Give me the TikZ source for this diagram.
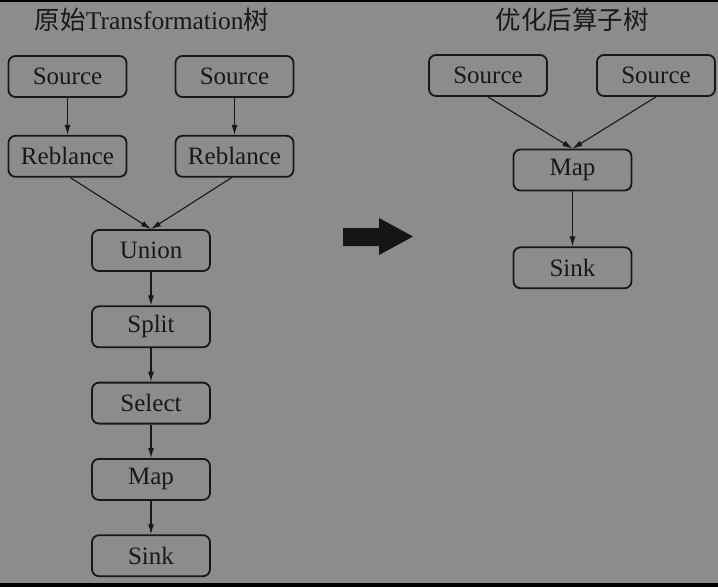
\documentclass[tikz,border=0pt]{standalone}
\usepackage{fontspec}
\setmainfont{Liberation Serif}
\newfontfamily\cjk{Noto Sans CJK SC}
\usepackage{tikz}
\usetikzlibrary{positioning,arrows.meta}
\definecolor{bggray}{RGB}{140,140,140}
\definecolor{ink}{RGB}{24,24,24}

\begin{document}
\begin{tikzpicture}[x=1pt,y=-1pt,
    op/.style={draw=ink, line width=1.8pt, rounded corners=7pt, minimum width=118pt,
      minimum height=41pt, inner sep=0pt, text=ink, font=\fontsize{25}{25}\selectfont},
    flow/.style={draw=ink, line width=1.1pt, -{Latex[length=10pt,width=6pt]}},
    heading/.style={text=ink, font=\fontsize{25.5}{25.5}\selectfont}]
        \fill[black] (0,0) rectangle (718,587);
        \fill[bggray] (0,2) rectangle (718,583);
        \useasboundingbox (0,0) rectangle (718,587);
        % titles
        \node[heading] (T_L) at (152,20) {{\cjk 原始}Transformation{\cjk 树}};
        \node[heading] (T_R) at (572,20) {\cjk 优化后算子树};
        % left tree: two sources
        \node[op] (S_1) at (67.5,76.5) {Source};
        \node[op] (S_2) at (234.5,76.5) {Source};
        \foreach \ii in {1,2}{
            \node[op, below=37pt of S_\ii] (R_\ii) {Reblance};
            \draw[flow] (S_\ii) -- (R_\ii);
        }
        % left tree: chain
        \node[op] (C_0) at (151,250.5) {Union};
        \draw[flow] ([xshift=3pt]R_1.south) -- (C_0.north);
        \draw[flow] ([xshift=-3pt]R_2.south) -- (C_0.north);
        \foreach \ii/\txt [count=\previi from 0] in {1/Split,2/Select,3/Map,4/Sink}{
            \node[op, below=33.5pt of C_\previi] (C_\ii) {\txt};
            \draw[flow] (C_\previi) -- (C_\ii);
        }
        % big arrow
        \fill[black!92] (343,228) -- (379,228) -- (379,218) -- (413,236.5)
            -- (379,255) -- (379,246) -- (343,246) -- cycle;
        % right tree
        \node[op] (O_1) at (488,75.5) {Source};
        \node[op] (O_2) at (656,75.5) {Source};
        \node[op] (O_M) at (572.5,170) {Map};
        \node[op, below=55pt of O_M] (O_K) {Sink};
        \foreach \ii in {1,2}{
            \draw[flow] (O_\ii.south) -- (O_M.north);
        }
        \draw[flow] (O_M) -- (O_K);
\end{tikzpicture}
\end{document}
